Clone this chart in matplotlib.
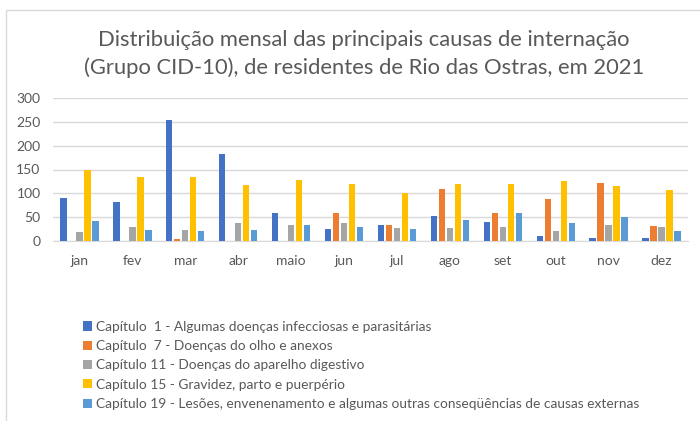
import numpy as np
from matplotlib import pyplot as plt
from matplotlib.patches import Rectangle

plt.rcParams['font.family'] = ['Lato', 'DejaVu Sans']

meses = ['jan', 'fev', 'mar', 'abr', 'maio', 'jun', 'jul', 'ago', 'set', 'out', 'nov', 'dez']

cap1 = [91, 82, 254, 183, 59, 26, 33, 53, 40, 11, 6, 6]
cap7 = [0, 0, 4, 0, 0, 58, 34, 109, 59, 88, 121, 32]
cap11 = [18, 30, 24, 37, 33, 37, 28, 28, 30, 21, 33, 30]
cap15 = [148, 134, 134, 117, 128, 119, 100, 120, 119, 126, 115, 108]
cap19 = [41, 24, 20, 24, 33, 29, 25, 44, 58, 37, 50, 21]

series = [cap1, cap7, cap11, cap15, cap19]
labels = [
    'Capítulo  1 - Algumas doenças infecciosas e parasitárias',
    'Capítulo  7 - Doenças do olho e anexos',
    'Capítulo 11 - Doenças do aparelho digestivo',
    'Capítulo 15 - Gravidez, parto e puerpério',
    'Capítulo 19 - Lesões, envenenamento e algumas outras conseqüências de causas externas',
]
cores = ['#4472C4', '#ED7D31', '#A5A5A5', '#FFC000', '#5B9BD5']

txt = '#595959'

fig = plt.figure(figsize=(7.0, 4.21), dpi=100)
# moldura do gráfico
fig.patches.append(Rectangle((6 / 700, -0.05), 1.2, 1 - 10 / 421 + 0.05, transform=fig.transFigure,
                             fill=False, edgecolor='#D9D9D9', linewidth=1))

ax = fig.add_axes([53 / 700, 1 - 241 / 421, (688 - 53) / 700, (241 - 98) / 421])

x = np.arange(len(meses))
passo = 0.151
larg = 0.12
handles = []
for i, (vals, cor) in enumerate(zip(series, cores)):
    b = ax.bar(x + (i - 2) * passo, vals, width=larg, color=cor, zorder=3)
    handles.append(b)

ax.set_xlim(-0.5, len(meses) - 0.5)
ax.set_ylim(0, 300)
ax.set_yticks(range(0, 301, 50))
ax.set_xticks(x)
ax.set_xticklabels(meses)
ax.tick_params(length=0, colors=txt, labelsize=10)
ax.tick_params(axis='x', pad=10)
ax.tick_params(axis='y', pad=9)
ax.grid(axis='y', color='#D9D9D9', linewidth=1, zorder=0)
for s in ['top', 'right', 'left']:
    ax.spines[s].set_visible(False)
ax.spines['bottom'].set_color('#D9D9D9')

fig.text(0.52, 1 - 40 / 421, 'Distribuição mensal das principais causas de internação',
         ha='center', va='center', fontsize=15.8, color=txt)
fig.text(0.52, 1 - 68 / 421, '(Grupo CID-10), de residentes de Rio das Ostras, em 2021',
         ha='center', va='center', fontsize=15.8, color=txt)

leg = fig.legend(handles, labels, loc='upper left', bbox_to_anchor=(76 / 700, 1 - 314 / 421),
                 frameon=False, fontsize=9.9, handlelength=0.65, handleheight=0.65,
                 handletextpad=0.3, labelspacing=0.53, borderpad=0)
for t in leg.get_texts():
    t.set_color(txt)

fig.savefig('out.png', dpi=100)
